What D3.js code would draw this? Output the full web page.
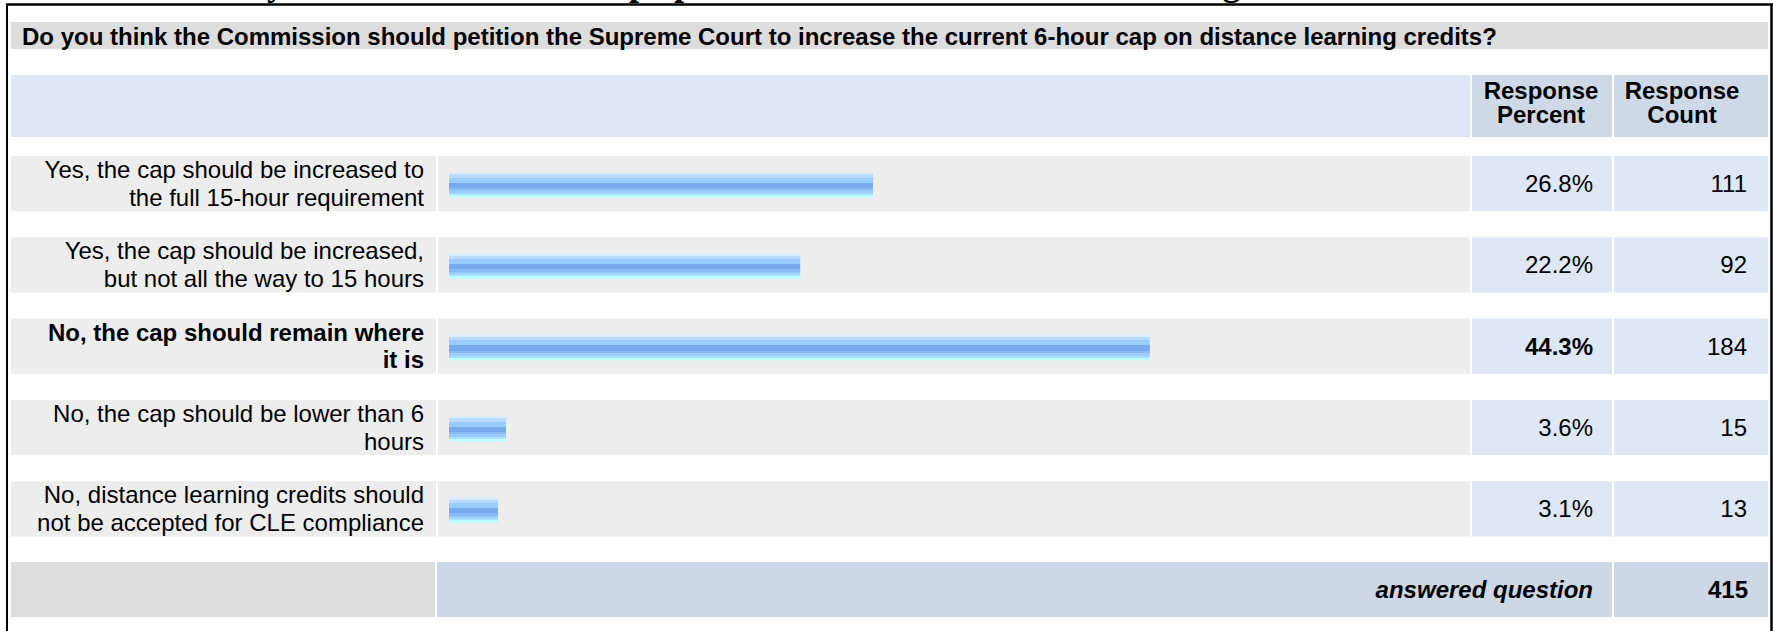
<!DOCTYPE html>
<html>
<head>
<meta charset="utf-8">
<script src="https://cdn.jsdelivr.net/npm/d3@7"></script>
<style>
  body { margin: 0; background: #fff; }
  svg { display: block; }
  text { font-family: "Liberation Sans", Arial, sans-serif; fill: #000; }
</style>
</head>
<body>
<svg id="chart" width="1773" height="631"></svg>
<script>
// page title (cut off at the top in the original print)
const pageTitle = "2010 CLE Survey Results About the Scope per Commission's Distance Learning Rule";
const question = "Do you think the Commission should petition the Supreme Court to increase the current 6-hour cap on distance learning credits?";

const answers = [
  "Yes, the cap should be increased to the full 15-hour requirement",
  "Yes, the cap should be increased, but not all the way to 15 hours",
  "No, the cap should remain where it is",
  "No, the cap should be lower than 6 hours",
  "No, distance learning credits should not be accepted for CLE compliance"
];
// how the answer text wraps in the cell
const answerLines = [
  ["Yes, the cap should be increased to", "the full 15-hour requirement"],
  ["Yes, the cap should be increased,", "but not all the way to 15 hours"],
  ["No, the cap should remain where", "it is"],
  ["No, the cap should be lower than 6", "hours"],
  ["No, distance learning credits should", "not be accepted for CLE compliance"]
];
const percents = [26.8, 22.2, 44.3, 3.6, 3.1];
const counts = [111, 92, 184, 15, 13];

const headerPercent = ["Response", "Percent"];
const headerCount = ["Response", "Count"];
const footerLabel = "answered question";
const answeredTotal = 415;

const rows = answers.map((a, i) => ({
  answer: a,
  lines: answerLines[i],
  pct: percents[i],
  count: counts[i]
}));
const maxPct = d3.max(percents);

/* layout */
const col = {
  label: { x: 11, w: 425 },
  bar: { x: 438, w: 1032 },
  pct: { x: 1472, w: 140 },
  count: { x: 1614, w: 154 }
};
const fullW = col.count.x + col.count.w - col.label.x;
const bodySize = 24;

const svg = d3.select("#chart");

const y = d3.scaleBand()
  .domain(answers)
  .range([156, 536.5])
  .paddingInner(0.32)
  .paddingOuter(0);

const x = d3.scaleLinear()
  .domain([0, 100])
  .range([0, 1582]);

/* bar gradient: striped blue like the survey export */
const stripes = [
  [0, "#d6ecff"], [0.07, "#b8dcff"], [0.2, "#99ccff"], [0.4, "#77aaee"],
  [0.61, "#88bbf5"], [0.71, "#99ccff"], [0.82, "#aadfff"], [0.9, "#bbffff"]
];
const grad = svg.append("defs").append("linearGradient")
  .attr("id", "barGrad")
  .attr("x1", 0).attr("y1", 0).attr("x2", 0).attr("y2", 1);
stripes.forEach((s, i) => {
  const end = i < stripes.length - 1 ? stripes[i + 1][0] : 1;
  grad.append("stop").attr("offset", s[0]).attr("stop-color", s[1]);
  grad.append("stop").attr("offset", end).attr("stop-color", s[1]);
});

/* title, mostly off the page */
svg.append("text")
  .attr("x", 13)
  .attr("y", -5)
  .style("font-family", "'Liberation Serif', 'Times New Roman', serif")
  .style("font-weight", "700")
  .style("font-size", "36px")
  .text(pageTitle);

/* question band */
svg.append("rect")
  .attr("x", col.label.x).attr("y", 22)
  .attr("width", fullW).attr("height", 27)
  .attr("fill", "#dddddd");
svg.append("text")
  .attr("x", 22).attr("y", 44.5)
  .style("font-weight", "700")
  .style("font-size", "24px")
  .text(question);

/* header row */
svg.append("rect")
  .attr("x", col.label.x).attr("y", 75)
  .attr("width", col.pct.x - 2 - col.label.x).attr("height", 62)
  .attr("fill", "#dde7f5");
[[col.pct, headerPercent, 1], [col.count, headerCount, 9]].forEach(([c, lines, off]) => {
  svg.append("rect")
    .attr("x", c.x).attr("y", 75)
    .attr("width", c.w).attr("height", 62)
    .attr("fill", "#cdd9e7");
  svg.append("text")
    .attr("text-anchor", "middle")
    .style("font-weight", "700")
    .style("font-size", "24px")
    .selectAll("tspan")
    .data(lines)
    .enter()
    .append("tspan")
    .attr("x", c.x + c.w / 2 - off)
    .attr("y", (d, i) => 99 + i * 24)
    .text(d => d);
});

/* answer rows */
const rowG = svg.selectAll("g.row")
  .data(rows)
  .enter()
  .append("g")
  .attr("class", "row")
  .attr("transform", d => `translate(0, ${y(d.answer)})`);

const bw = y.bandwidth();

rowG.append("rect")
  .attr("x", col.label.x).attr("width", col.label.w)
  .attr("height", bw).attr("fill", "#ededed");
rowG.append("rect")
  .attr("x", col.bar.x).attr("width", col.bar.w)
  .attr("height", bw).attr("fill", "#ededed");
rowG.append("rect")
  .attr("x", col.pct.x).attr("width", col.pct.w)
  .attr("height", bw).attr("fill", "#dde7f5");
rowG.append("rect")
  .attr("x", col.count.x).attr("width", col.count.w)
  .attr("height", bw).attr("fill", "#dde7f5");

// answer text, right aligned, bold for the top answer
rowG.append("text")
  .attr("text-anchor", "end")
  .style("font-size", bodySize + "px")
  .style("font-weight", d => d.pct === maxPct ? "700" : "400")
  .selectAll("tspan")
  .data(d => d.lines)
  .enter()
  .append("tspan")
  .attr("x", 424)
  .attr("y", (d, i) => bw / 2 - 5.5 + i * 27.5)
  .text(d => d);

rowG.append("rect")
  .attr("class", "bar")
  .attr("x", col.bar.x + 11)
  .attr("y", bw / 2 + 1.5 - 12.5)
  .attr("width", d => x(d.pct))
  .attr("height", 25)
  .attr("fill", "url(#barGrad)");

rowG.append("text")
  .attr("x", 1593)
  .attr("y", bw / 2 + 8.5)
  .attr("text-anchor", "end")
  .style("font-size", bodySize + "px")
  .style("font-weight", d => d.pct === maxPct ? "700" : "400")
  .text(d => d.pct.toFixed(1) + "%");

rowG.append("text")
  .attr("x", 1747)
  .attr("y", bw / 2 + 8.5)
  .attr("text-anchor", "end")
  .style("font-size", bodySize + "px")
  .text(d => d.count);

/* footer row */
const footY = 562, footH = 55;
svg.append("rect")
  .attr("x", col.label.x).attr("y", footY)
  .attr("width", col.label.w - 1).attr("height", footH)
  .attr("fill", "#dcdcdc");
svg.append("rect")
  .attr("x", col.bar.x - 1).attr("y", footY)
  .attr("width", col.pct.x + col.pct.w - col.bar.x + 1).attr("height", footH)
  .attr("fill", "#cdd8e6");
svg.append("rect")
  .attr("x", col.count.x).attr("y", footY)
  .attr("width", col.count.w).attr("height", footH)
  .attr("fill", "#cdd8e6");
svg.append("text")
  .attr("x", 1593).attr("y", footY + footH / 2 + 8.5)
  .attr("text-anchor", "end")
  .style("font-size", bodySize + "px")
  .style("font-weight", "700")
  .style("font-style", "italic")
  .text(footerLabel);
svg.append("text")
  .attr("x", 1748).attr("y", footY + footH / 2 + 8.5)
  .attr("text-anchor", "end")
  .style("font-size", bodySize + "px")
  .style("font-weight", "700")
  .text(answeredTotal);

/* page frame */
svg.append("line")
  .attr("x1", 6).attr("x2", 1773).attr("y1", 4.5).attr("y2", 4.5)
  .attr("stroke", "#000").attr("stroke-width", 2.5);
svg.append("line")
  .attr("x1", 7).attr("x2", 7).attr("y1", 4).attr("y2", 631)
  .attr("stroke", "#000").attr("stroke-width", 2);
svg.append("line")
  .attr("x1", 1771.5).attr("x2", 1771.5).attr("y1", 4).attr("y2", 631)
  .attr("stroke", "#000").attr("stroke-width", 2.5);
</script>
</body>
</html>
